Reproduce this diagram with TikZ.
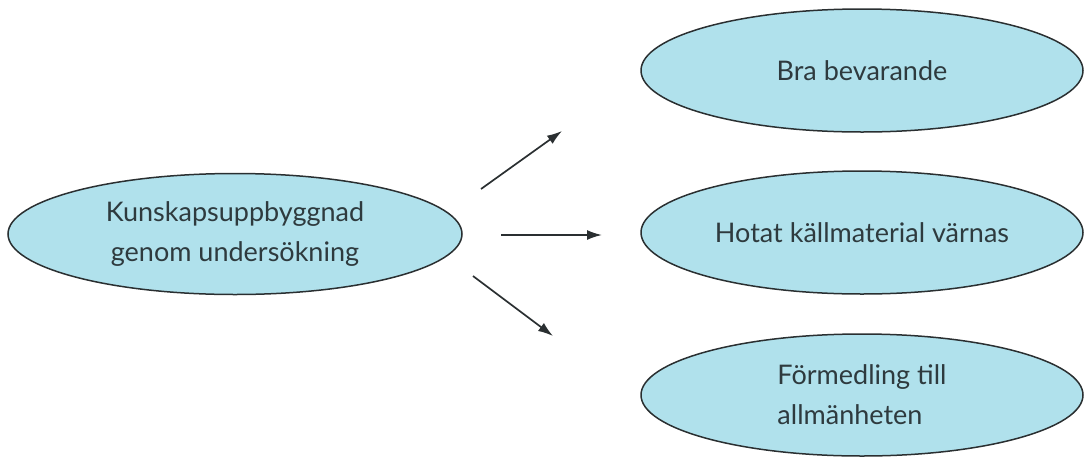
\documentclass[tikz,border=0pt]{standalone}
\usepackage{fontspec}
\setmainfont{Lato}
\usetikzlibrary{shapes.geometric,arrows.meta}
\definecolor{fillblue}{HTML}{B0E1EC}
\definecolor{txtgray}{HTML}{2E3A3E}
\definecolor{edgegray}{HTML}{2A2F31}
\tikzset{
  oval/.style={ellipse, draw=edgegray, fill=fillblue, line width=1.5pt, inner sep=0pt,
    minimum width=#1, text=txtgray, font=\fontsize{27}{40}\selectfont},
  link/.style={draw=edgegray, line width=1.7pt, -{Latex[length=15pt,width=10pt]}}
}
\begin{document}
\begin{tikzpicture}[x=1pt,y=-1pt]
\useasboundingbox (0,0) rectangle (1085,456);
\node[oval=454pt, minimum height=121pt, align=center] (src) at (235,234) {Kunskapsuppbyggnad\\genom undersökning};
\node[oval=442pt, minimum height=123pt] (t1) at (862,70.5) {Bra bevarande};
\node[oval=442pt, minimum height=123pt] (t2) at (862,232.5) {Hotat källmaterial värnas};
\node[oval=442pt, minimum height=122pt, align=left] (t3) at (862,395) {Förmedling till\\allmänheten};
\coordinate (a1s) at (481,189);
\coordinate (a1e) at (562,131);
\coordinate (a2s) at (501,235);
\coordinate (a2e) at (602,235);
\coordinate (a3s) at (473,276);
\coordinate (a3e) at (553,336);
\draw[link] (a1s) -- (a1e);
\draw[link] (a2s) -- (a2e);
\draw[link] (a3s) -- (a3e);
\end{tikzpicture}
\end{document}
